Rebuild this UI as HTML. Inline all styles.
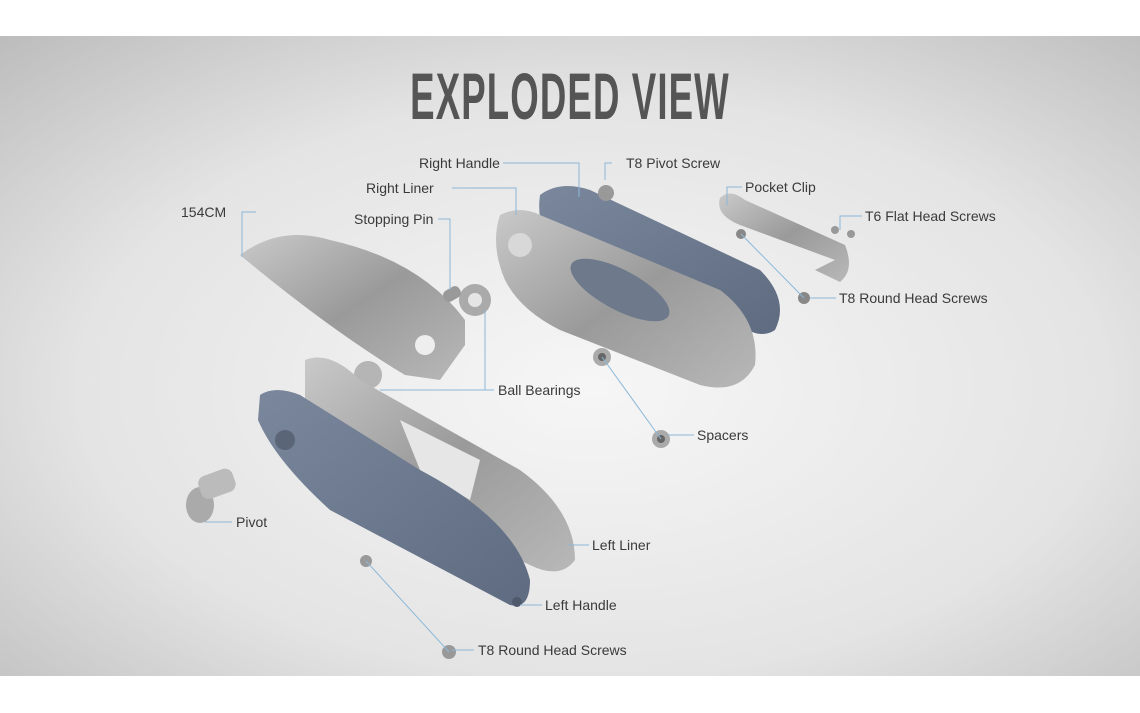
<!DOCTYPE html>
<html><head><meta charset="utf-8"><style>
html,body{margin:0;padding:0;background:#fff;width:1140px;height:713px;overflow:hidden}
svg{display:block}
text{font-family:"Liberation Sans",sans-serif}
.l{font-size:14px;fill:#3a3a3a}
.k{stroke:#8cb8d8;stroke-width:1;fill:none}
</style></head><body>
<svg width="1140" height="713" viewBox="0 0 1140 713">
<defs>
<radialGradient id="bg" cx="0.52" cy="0.55" r="0.75">
<stop offset="0" stop-color="#f6f6f6"/><stop offset="0.6" stop-color="#e4e4e4"/><stop offset="1" stop-color="#bdbdbd"/>
</radialGradient>
<linearGradient id="steel" x1="0" y1="0" x2="1" y2="1">
<stop offset="0" stop-color="#c9c9c9"/><stop offset="0.5" stop-color="#9a9a9a"/><stop offset="1" stop-color="#b8b8b8"/>
</linearGradient>
<linearGradient id="blue" x1="0" y1="0" x2="1" y2="1">
<stop offset="0" stop-color="#7a879c"/><stop offset="1" stop-color="#5e6b80"/>
</linearGradient>
</defs>
<rect x="0" y="36" width="1140" height="640" fill="url(#bg)"/>
<text x="570" y="119" text-anchor="middle" font-size="66" font-weight="bold" fill="#555" transform="translate(570 0) scale(0.555 1) translate(-570 0)" style="letter-spacing:2px">EXPLODED VIEW</text>

<path d="M540 195 Q560 180 590 190 L760 270 Q790 300 775 330 Q760 340 740 325 L560 255 Q535 230 540 195Z" fill="url(#blue)"/>
<path d="M500 215 Q520 205 540 215 L720 290 Q760 320 755 365 Q740 395 700 385 L560 330 Q520 310 505 280 Q490 245 500 215Z" fill="url(#steel)"/>
<ellipse cx="620" cy="290" rx="55" ry="20" transform="rotate(28 620 290)" fill="#6e7a8c"/>
<circle cx="520" cy="245" r="12" fill="#d8d8d8"/>
<path d="M240 255 Q280 225 330 240 Q420 260 465 320 L465 345 L440 380 L405 375 Q330 330 240 255Z" fill="url(#steel)"/>
<circle cx="425" cy="345" r="10" fill="#eee"/>
<circle cx="475" cy="300" r="16" fill="#aaa"/><circle cx="475" cy="300" r="7" fill="#e5e5e5"/>
<rect x="443" y="288" width="18" height="12" rx="5" fill="#999" transform="rotate(-30 452 294)"/>
<circle cx="368" cy="375" r="14" fill="#b5b5b5"/>
<path d="M305 360 Q330 350 360 380 L520 470 Q575 510 575 560 Q560 580 530 565 L370 490 Q320 450 305 400Z" fill="url(#steel)"/>
<path d="M400 420 L480 460 L470 500 L420 470Z" fill="#e6e6e6"/>
<path d="M260 395 Q275 385 300 395 L420 470 Q515 520 530 580 Q530 610 510 605 L330 510 Q275 460 258 420Z" fill="url(#blue)"/>
<circle cx="285" cy="440" r="10" fill="#5a6578"/>
<circle cx="517" cy="602" r="5" fill="#4e596c"/>
<ellipse cx="200" cy="505" rx="14" ry="18" fill="#aaa"/>
<rect x="200" y="478" width="36" height="24" rx="8" fill="#bbb" transform="rotate(-20 200 490)"/>
<path d="M720 198 Q730 188 745 200 L845 245 Q855 270 840 282 L815 270 L835 260 L740 225 Q715 215 720 198Z" fill="url(#steel)"/>
<circle cx="606" cy="193" r="8" fill="#999"/>
<circle cx="741" cy="234" r="5" fill="#888"/>
<circle cx="835" cy="230" r="4" fill="#999"/><circle cx="851" cy="234" r="4" fill="#999"/>
<circle cx="804" cy="298" r="6" fill="#888"/>
<circle cx="602" cy="357" r="9" fill="#aaa"/><circle cx="602" cy="357" r="4" fill="#666"/>
<circle cx="661" cy="439" r="9" fill="#aaa"/><circle cx="661" cy="439" r="4" fill="#666"/>
<circle cx="366" cy="561" r="6" fill="#999"/>
<circle cx="449" cy="652" r="7" fill="#999"/>

<path class="k" d="M503 163 H579 V197"/>
<path class="k" d="M612 163 H605 V180"/>
<path class="k" d="M452 188 H516 V215"/>
<path class="k" d="M256 212 H242 V257"/>
<path class="k" d="M438 219 H450 V290"/>
<path class="k" d="M742 187 H727 V205"/>
<path class="k" d="M862 216 H840 V230"/>
<path class="k" d="M836 298 H810"/>
<path class="k" d="M741 234 L804 298"/>
<path class="k" d="M494 390 H485 V310"/>
<path class="k" d="M494 390 H380"/>
<path class="k" d="M694 435 H668"/>
<path class="k" d="M602 357 L661 439"/>
<path class="k" d="M232 522 H205"/>
<path class="k" d="M589 545 H568"/>
<path class="k" d="M542 605 H520"/>
<path class="k" d="M474 650 H452"/>
<path class="k" d="M366 561 L449 652"/>

<text class="l" x="419" y="168">Right Handle</text>
<text class="l" x="626" y="168">T8 Pivot Screw</text>
<text class="l" x="366" y="193">Right Liner</text>
<text class="l" x="745" y="192">Pocket Clip</text>
<text class="l" x="181" y="217">154CM</text>
<text class="l" x="865" y="221">T6 Flat Head Screws</text>
<text class="l" x="354" y="224">Stopping Pin</text>
<text class="l" x="839" y="303">T8 Round Head Screws</text>
<text class="l" x="498" y="395">Ball Bearings</text>
<text class="l" x="697" y="440">Spacers</text>
<text class="l" x="236" y="527">Pivot</text>
<text class="l" x="592" y="550">Left Liner</text>
<text class="l" x="545" y="610">Left Handle</text>
<text class="l" x="478" y="655">T8 Round Head Screws</text>
</svg>
</body></html>
